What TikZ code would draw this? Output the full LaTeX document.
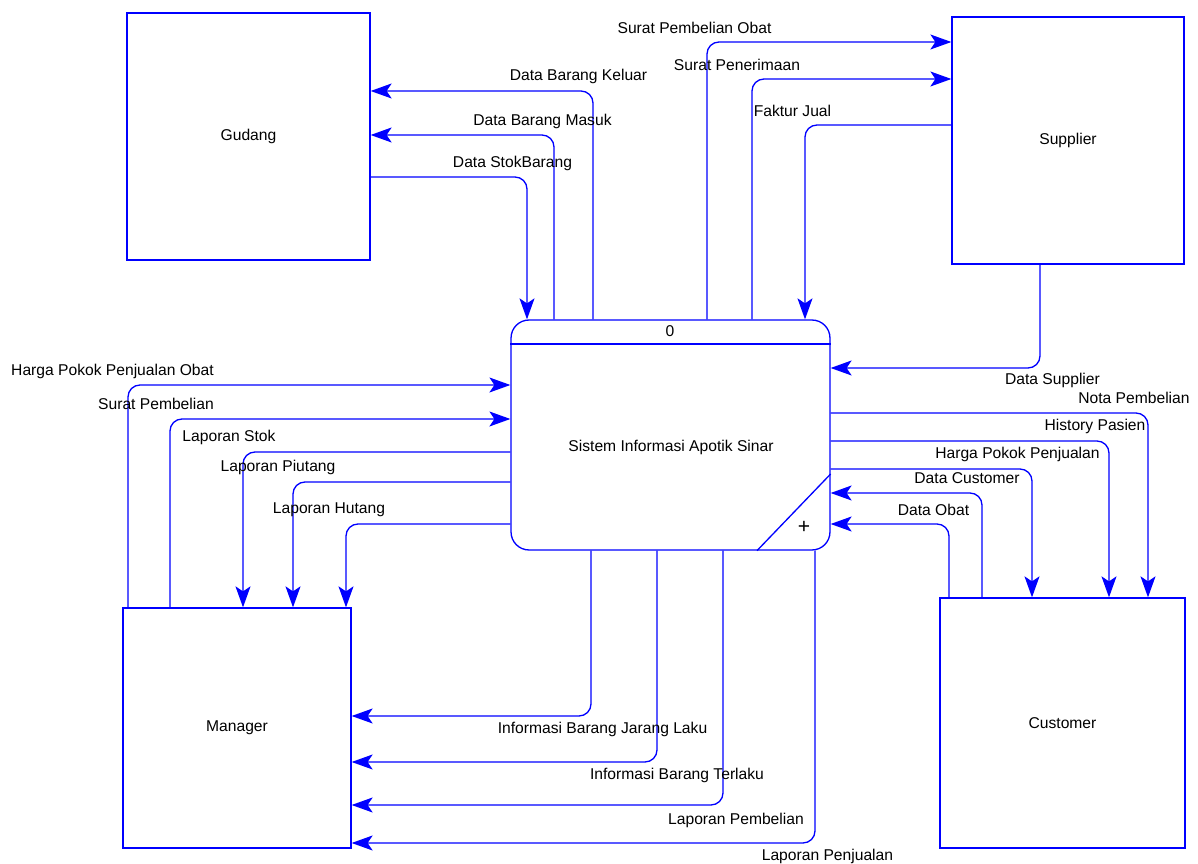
\documentclass[tikz,border=0pt]{standalone}
\usepackage{fontspec}
\setmainfont{Liberation Sans}
\usetikzlibrary{positioning,arrows.meta,calc}
\definecolor{dfdblue}{HTML}{0000FF}
\newcommand{\dfdfont}{\fontsize{8.9}{10}\selectfont}
\tikzset{
  entity/.style ={draw=dfdblue, line width=0.75pt, inner sep=0pt, font=\dfdfont},
  process/.style={draw=dfdblue, line width=0.75pt, rounded corners=0.36cm,
                  minimum width=6.38cm, minimum height=4.6cm, inner sep=0pt},
  border/.style ={draw=dfdblue, line width=0.75pt},
  flow/.style   ={border, rounded corners=0.24cm,
                  -{Stealth[length=4.2mm,width=3mm,inset=1mm]}},
  flowlbl/.style={font=\dfdfont, inner sep=0pt},
}

\begin{document}
\begin{tikzpicture}[x=0.02cm,y=-0.02cm]
    \useasboundingbox (0,0) rectangle (1198,864);
    % --- external entities ---
    \node[entity,minimum width=4.86cm,minimum height=4.94cm] (gud) at (248.5,136.5) {Gudang};
    \node[entity,minimum width=4.64cm,minimum height=4.94cm] (sup) at (1068,140.5) {Supplier};
    \node[entity,minimum width=4.56cm,minimum height=4.8cm] (mgr) at (237,728) {Manager};
    \node[entity,minimum width=4.9cm,minimum height=5cm] (cus) at (1062.5,723) {Customer};
    % --- process 0 ---
    \node[process] (proc) at (670.5,435) {};
    \node[flowlbl] (procno) at (670,331) {0};
    \node[flowlbl] (procname) at (671,447) {Sistem Informasi Apotik Sinar};
    \node[flowlbl,font=\large] (procplus) at (804,527) {+};
    \draw[border] (proc.west |- 0,344) -- (proc.east |- 0,344);
    \draw[border] (proc.east |- 0,474) -- (proc.south -| 757,0);
    % --- Gudang ---
    \draw[flow] (proc.north -| 593,0) |- (gud.east |- 0,91);
    \draw[flow] (proc.north -| 554,0) |- (gud.east |- 0,135);
    \draw[flow] (gud.east |- 0,177) -| (proc.north -| 527,0);
    \node[flowlbl] (lKeluar) at (578.5,76) {Data Barang Keluar};
    \node[flowlbl] (lMasuk) at (542.5,121) {Data Barang Masuk};
    \node[flowlbl] (lStok) at (512.5,163) {Data StokBarang};
    % --- Supplier ---
    \draw[flow] (proc.north -| 707,0) |- (sup.west |- 0,42);
    \draw[flow] (proc.north -| 752,0) |- (sup.west |- 0,79);
    \draw[flow] (sup.west |- 0,125) -| (proc.north -| 805,0);
    \draw[flow] (sup.south -| 1040,0) |- (proc.east |- 0,368);
    \node[flowlbl] (lSpo) at (694.5,28) {Surat Pembelian Obat};
    \node[flowlbl] (lSpn) at (737,65) {Surat Penerimaan};
    \node[flowlbl] (lFaktur) at (792.5,111) {Faktur Jual};
    \node[flowlbl] (lDsup) at (1052.5,380) {Data Supplier};
    % --- Customer ---
    \draw[flow] (proc.east |- 0,413) -| (cus.north -| 1148,0);
    \draw[flow] (proc.east |- 0,441) -| (cus.north -| 1109,0);
    \draw[flow] (proc.east |- 0,469) -| (cus.north -| 1032,0);
    \draw[flow] (cus.north -| 982,0) |- (proc.east |- 0,493);
    \draw[flow] (cus.north -| 949,0) |- (proc.east |- 0,524);
    \node[flowlbl] (lNota) at (1134,398) {Nota Pembelian};
    \node[flowlbl] (lHist) at (1095,426) {History Pasien};
    \node[flowlbl] (lHpp) at (1017.5,454) {Harga Pokok Penjualan};
    \node[flowlbl] (lDcus) at (967,478) {Data Customer};
    \node[flowlbl] (lDobat) at (933.5,510) {Data Obat};
    % --- Manager, left side ---
    \draw[flow] (mgr.north -| 128,0) |- (proc.west |- 0,385);
    \draw[flow] (mgr.north -| 170,0) |- (proc.west |- 0,419);
    \draw[flow] (proc.west |- 0,452) -| (mgr.north -| 243,0);
    \draw[flow] (proc.west |- 0,482) -| (mgr.north -| 293,0);
    \draw[flow] (proc.west |- 0,524) -| (mgr.north -| 346,0);
    \node[flowlbl] (lHppo) at (112.5,371) {Harga Pokok Penjualan Obat};
    \node[flowlbl] (lSp) at (156,404) {Surat Pembelian};
    \node[flowlbl] (lLstok) at (229,437) {Laporan Stok};
    \node[flowlbl] (lPiutang) at (278,467) {Laporan Piutang};
    \node[flowlbl] (lHutang) at (329,510) {Laporan Hutang};
    % --- Manager, bottom ---
    \draw[flow] (proc.south -| 591,0) |- (mgr.east |- 0,716);
    \draw[flow] (proc.south -| 657,0) |- (mgr.east |- 0,762);
    \draw[flow] (proc.south -| 723,0) |- (mgr.east |- 0,805);
    \draw[flow] (proc.south -| 815,0) |- (mgr.east |- 0,843);
    \node[flowlbl] (lJarang) at (602.5,729) {Informasi Barang Jarang Laku};
    \node[flowlbl] (lTerlaku) at (677,775) {Informasi Barang Terlaku};
    \node[flowlbl] (lBeli) at (736,820) {Laporan Pembelian};
    \node[flowlbl] (lJual) at (827.5,856) {Laporan Penjualan};
\end{tikzpicture}
\end{document}
